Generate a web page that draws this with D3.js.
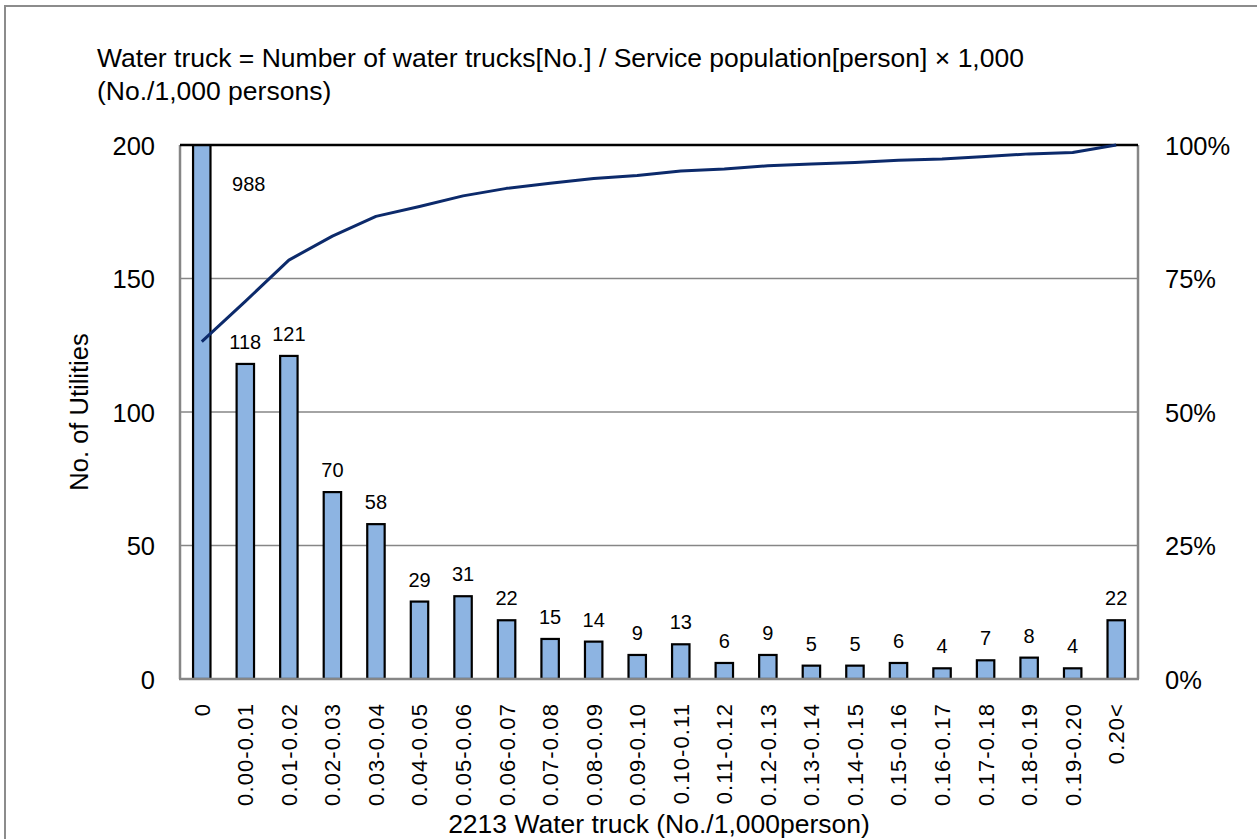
<!DOCTYPE html>
<html><head><meta charset="utf-8">
<script src="https://cdn.jsdelivr.net/npm/d3@7"></script>
<style>
html,body{margin:0;padding:0;background:#fff;}
text{font-family:"Liberation Sans",Arial,sans-serif;fill:#000;}
</style></head>
<body><svg id="c" width="1257" height="839"></svg>
<script>
const categories = ["0","0.00-0.01","0.01-0.02","0.02-0.03","0.03-0.04","0.04-0.05","0.05-0.06","0.06-0.07","0.07-0.08","0.08-0.09","0.09-0.10","0.10-0.11","0.11-0.12","0.12-0.13","0.13-0.14","0.14-0.15","0.15-0.16","0.16-0.17","0.17-0.18","0.18-0.19","0.19-0.20","0.20<"];
const counts = [988,118,121,70,58,29,31,22,15,14,9,13,6,9,5,5,6,4,7,8,4,22];
const leftTicks = [0,50,100,150,200];
const rightTicks = [0,0.25,0.5,0.75,1];
const titleLines = ["Water truck = Number of water trucks[No.] / Service population[person] \u00d7 1,000","(No./1,000 persons)"];
const yTitle = "No. of Utilities";
const xTitle = "2213 Water truck (No./1,000person)";

const total = d3.sum(counts);
const cumPct = Array.from(d3.cumsum(counts), v => v / total);

const FF = "Liberation Sans, Arial, sans-serif";
const svg = d3.select("#c");
const L = 180, R = 1138, T = 145, B = 679;

// outer chart border (left & top visible)
svg.append("rect").attr("x",5).attr("y",6).attr("width",1270).attr("height",860)
  .attr("fill","none").attr("stroke","#8c8c8c").attr("stroke-width",2);

const x = d3.scaleBand().domain(categories).range([L,R]).paddingInner(0.6).paddingOuter(0.3);
const y = d3.scaleLinear().domain([0,200]).range([B,T]);
const y2 = d3.scaleLinear().domain([0,1]).range([B,T]);

// gridlines
svg.append("g").selectAll("line").data([50,100,150]).join("line")
  .attr("x1",L).attr("x2",R).attr("y1",d=>y(d)).attr("y2",d=>y(d))
  .attr("stroke","#868686").attr("stroke-width",1.5);

// bars
svg.append("clipPath").attr("id","pc").append("rect")
  .attr("x",L).attr("y",T).attr("width",R-L).attr("height",B-T);
svg.append("g").attr("clip-path","url(#pc)").selectAll("rect").data(counts).join("rect")
  .attr("x",(d,i)=>x(categories[i])).attr("width",x.bandwidth())
  .attr("y",d=>y(d)).attr("height",d=>B-y(d))
  .attr("fill","#8DB4E2").attr("stroke","#000").attr("stroke-width",2.2);

// plot border
svg.append("line").attr("x1",L).attr("x2",L).attr("y1",T).attr("y2",B).attr("stroke","#868686").attr("stroke-width",2.5);
svg.append("line").attr("x1",R).attr("x2",R).attr("y1",T).attr("y2",B).attr("stroke","#868686").attr("stroke-width",2.5);
svg.append("line").attr("x1",L-1).attr("x2",R+1).attr("y1",B).attr("y2",B).attr("stroke","#868686").attr("stroke-width",2.5);
svg.append("line").attr("x1",L).attr("x2",R).attr("y1",T).attr("y2",T).attr("stroke","#000").attr("stroke-width",2.5);

// cumulative line
const line = d3.line().x((d,i)=>x(categories[i])+x.bandwidth()/2).y(d=>y2(d));
svg.append("path").datum(cumPct).attr("d",line).attr("fill","none")
  .attr("stroke","#0C2A6B").attr("stroke-width",3).attr("stroke-linejoin","round");

// bar labels
svg.append("g").selectAll("text").data(counts).join("text")
  .attr("x",(d,i)=> i===0 ? x(categories[i])+x.bandwidth()/2+47 : x(categories[i])+x.bandwidth()/2)
  .attr("y",d=> d>200 ? 191 : y(d)-15)
  .attr("text-anchor","middle").attr("font-size",20).text(d=>d);

// left axis
const ga = svg.append("g").attr("transform",`translate(${L},0)`)
  .call(d3.axisLeft(y).tickValues(leftTicks).tickSize(0).tickPadding(25));
ga.select(".domain").remove();
ga.selectAll("text").attr("font-size",25.5).style("font-family",FF).attr("dy","0.36em");

const gb = svg.append("g").attr("transform",`translate(${R},0)`)
  .call(d3.axisRight(y2).tickValues(rightTicks).tickSize(0).tickPadding(27).tickFormat(d3.format(".0%")));
gb.select(".domain").remove();
gb.selectAll("text").attr("font-size",25.5).style("font-family",FF).attr("dy","0.36em");

// x axis
const gx = svg.append("g").attr("transform",`translate(0,${B})`)
  .call(d3.axisBottom(x).tickSize(0).tickPadding(0));
gx.select(".domain").remove();
gx.selectAll("text").attr("font-size",22).style("font-family",FF).style("letter-spacing","1.1px")
  .attr("text-anchor","end").attr("dy","0.36em")
  .attr("transform","translate(0,24) rotate(-90)").attr("y",0).attr("x",0);

// titles
svg.append("g").selectAll("text").data(titleLines).join("text")
  .attr("x",97).attr("y",(d,i)=>67+i*33).attr("font-size",26.5).text(d=>d);
svg.append("text").attr("transform","translate(88,412) rotate(-90)")
  .attr("text-anchor","middle").attr("font-size",25.5).text(yTitle);
svg.append("text").attr("x",(L+R)/2).attr("y",833).attr("text-anchor","middle").attr("font-size",26.5).text(xTitle);
</script></body></html>
